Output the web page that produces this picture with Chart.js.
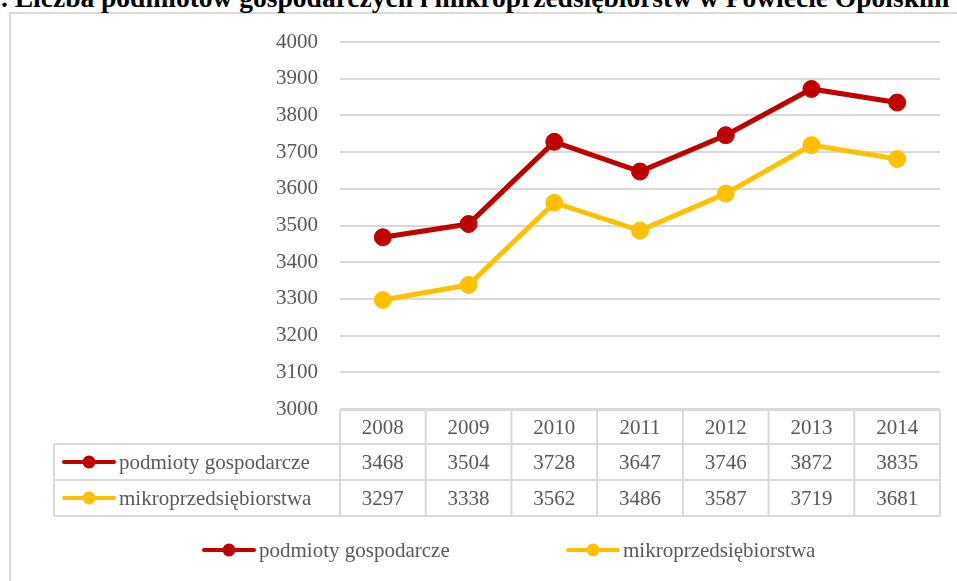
<!DOCTYPE html>
<html>
<head>
<meta charset="utf-8">
<script src="https://cdn.jsdelivr.net/npm/chart.js@4.4.1/dist/chart.umd.min.js"></script>
<style>
  html, body { margin: 0; padding: 0; background: #fff; overflow: hidden; }
  #wrap { position: relative; width: 957px; height: 581px; overflow: hidden; }
  #frame { position: absolute; left: 9px; top: 12px; width: 960px; height: 600px; border: 2px solid #d9d9d9; }
  #title { position: absolute; left: 1px; top: -16px; font: bold 27.5px "Liberation Serif", serif; line-height: 27px; color: #000; white-space: nowrap; }
  canvas { position: absolute; left: 0; top: 0; }
</style>
</head>
<body>
<div id="wrap">
  <div id="frame"></div>
  <div id="title">. Liczba podmiotów gospodarczych i mikroprzedsiębiorstw w Powiecie Opolskim</div>
  <canvas id="chart" width="957" height="581"></canvas>
</div>
<script>
const years = ['2008', '2009', '2010', '2011', '2012', '2013', '2014'];
const podmioty = [3468, 3504, 3728, 3647, 3746, 3872, 3835];
const mikro = [3297, 3338, 3562, 3486, 3587, 3719, 3681];
const seriesNames = ['podmioty gospodarcze', 'mikroprzedsiębiorstwa'];
const seriesColors = ['#c00000', '#ffc000'];

const FONT = "'Liberation Serif', serif";
const FONT_SIZE = 21;
const TEXT = '#595959';
const LINE = '#d9d9d9';

// little "line + dot" symbol used in the table and legend
function makeSymbol(color) {
  const c = document.createElement('canvas');
  c.width = 56; c.height = 16;
  const g = c.getContext('2d');
  g.strokeStyle = color; g.lineWidth = 4; g.lineCap = 'round';
  g.beginPath(); g.moveTo(3, 8); g.lineTo(53, 8); g.stroke();
  g.fillStyle = color;
  g.beginPath(); g.arc(28, 8, 6.5, 0, Math.PI * 2); g.fill();
  return c;
}
const symbols = seriesColors.map(makeSymbol);

const tablePlugin = {
  id: 'dataTable',
  afterDraw(chart) {
    const ctx = chart.ctx;
    const x = chart.scales.x;
    const area = chart.chartArea;
    const left = area.left, right = area.right;
    const colW = (right - left) / years.length;
    const labelLeft = 54;
    const rows = [410, 444, 480, 516];

    ctx.save();
    ctx.strokeStyle = LINE;
    ctx.lineWidth = 2;
    ctx.beginPath();
    ctx.moveTo(left, rows[0]); ctx.lineTo(right, rows[0]);
    for (let r = 1; r < rows.length; r++) {
      ctx.moveTo(labelLeft, rows[r]); ctx.lineTo(right, rows[r]);
    }
    for (let i = 0; i <= years.length; i++) {
      const xx = left + i * colW;
      ctx.moveTo(xx, rows[0]); ctx.lineTo(xx, rows[3]);
    }
    ctx.moveTo(labelLeft, rows[1]); ctx.lineTo(labelLeft, rows[3]);
    ctx.stroke();

    ctx.font = FONT_SIZE + 'px ' + FONT;
    ctx.fillStyle = TEXT;
    ctx.textAlign = 'center';
    ctx.textBaseline = 'middle';
    years.forEach((y, i) => {
      const cx = x.getPixelForValue(i);
      ctx.fillText(y, cx, (rows[0] + rows[1]) / 2 + 1);
      chart.data.datasets.forEach((ds, d) => {
        ctx.fillText(String(ds.data[i]), cx, (rows[d + 1] + rows[d + 2]) / 2 + 1);
      });
    });

    ctx.textAlign = 'left';
    chart.data.datasets.forEach((ds, d) => {
      const cy = (rows[d + 1] + rows[d + 2]) / 2;
      ctx.drawImage(symbols[d], 61, cy - 8);
      ctx.fillText(ds.label, 119, cy + 1);
    });

    // legend
    const legendY = 550;
    const legendX = [201, 565];
    chart.data.datasets.forEach((ds, d) => {
      ctx.drawImage(symbols[d], legendX[d], legendY - 8);
      ctx.fillText(ds.label, legendX[d] + 58, legendY + 1);
    });
    ctx.restore();
  }
};

function draw() {
  new Chart(document.getElementById('chart'), {
    type: 'line',
    data: {
      labels: years,
      datasets: [
        { label: seriesNames[0], data: podmioty, borderColor: seriesColors[0], backgroundColor: seriesColors[0] },
        { label: seriesNames[1], data: mikro, borderColor: seriesColors[1], backgroundColor: seriesColors[1] }
      ]
    },
    options: {
      responsive: false,
      animation: false,
      layout: { padding: { left: 0, right: 17, top: 42, bottom: 172 } },
      elements: {
        line: { borderWidth: 5, tension: 0 },
        point: { radius: 8.5, borderWidth: 1, borderColor: '#fff', pointStyle: 'circle' }
      },
      scales: {
        x: { display: false, offset: true },
        y: {
          min: 3000,
          max: 4000,
          afterFit(scale) { scale.width = 340; },
          border: { display: false },
          grid: { color: LINE, lineWidth: 2, drawTicks: false },
          ticks: {
            stepSize: 100, padding: 22, color: TEXT,
            font: { family: FONT, size: FONT_SIZE },
            callback: v => String(v)
          }
        }
      },
      plugins: {
        legend: { display: false },
        tooltip: { enabled: false }
      }
    },
    plugins: [tablePlugin]
  });
}

document.fonts.load("21px 'Liberation Serif'").then(draw, draw);
</script>
</body>
</html>
